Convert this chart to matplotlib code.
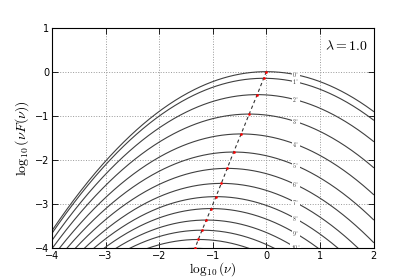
import numpy as np
import matplotlib
matplotlib.use("Agg")
import matplotlib.pyplot as plt

plt.rcParams['mathtext.fontset'] = 'cm'

# Viewing angles (degrees) and the peak position of each spectrum
angles = [0, 1, 2, 3, 4, 5, 6, 7, 8, 9, 10, 11, 12, 13]
peak_x = [0.00, -0.05, -0.17, -0.32, -0.47, -0.61, -0.73, -0.84, -0.94, -1.03, -1.12, -1.20, -1.27, -1.33]
peak_y = [0.00, -0.15, -0.52, -0.96, -1.41, -1.82, -2.19, -2.53, -2.83, -3.10, -3.36, -3.59, -3.80, -4.00]
curvature = 0.225          # log-parabola curvature
label_x = 0.55             # x position of the angle labels
lam_text = r'$\lambda=1.0$'

xticks = [-4, -3, -2, -1, 0, 1, 2]
yticks = [-4, -3, -2, -1, 0, 1]

fig = plt.figure(figsize=(4.15, 2.77), dpi=100)
ax = fig.add_axes([0.1253, 0.1036, 0.9 - 0.1253, 0.9007 - 0.1036])

x = np.linspace(-4, 2, 400)
for ang, px, py in zip(angles, peak_x, peak_y):
    y = py - curvature * (x - px) ** 2
    ax.plot(x, y, color='0.25', lw=0.8, zorder=2)
    ly = py - curvature * (label_x - px) ** 2
    if -4.05 < ly < 1:
        ax.text(label_x, ly, r'$%d^{\circ}$' % ang, fontsize=4.2, ha='center', va='center',
                color='0.2', zorder=3, clip_on=True,
                bbox=dict(facecolor='white', edgecolor='none', pad=0.3))

ax.plot(peak_x, peak_y, color='0.2', ls='--', lw=0.8, zorder=4, dashes=(3, 2.5))
ax.plot(peak_x, peak_y, ls='none', marker='o', ms=1.9, color='red', mec='none', zorder=5)

ax.text(1.1, 0.59, lam_text, fontsize=10, ha='left', va='center')

ax.set_xlim(-4, 2)
ax.set_ylim(-4, 1)
ax.set_xticks(xticks)
ax.set_yticks(yticks)
ax.grid(True, ls=':', color='0.6', lw=0.7)
ax.set_axisbelow(True)
ax.tick_params(direction='in', top=True, right=True, labelsize=7, length=4, width=0.6, pad=2)
for s in ax.spines.values():
    s.set_linewidth(0.8)

ax.set_xlabel(r'$\log_{10}(\nu)$', fontsize=9.5, va='center')
ax.xaxis.set_label_coords(0.5, -0.094)
ax.set_ylabel(r'$\log_{10}(\nu F(\nu))$', fontsize=10, labelpad=3)

fig.savefig('out.png', dpi=100)
